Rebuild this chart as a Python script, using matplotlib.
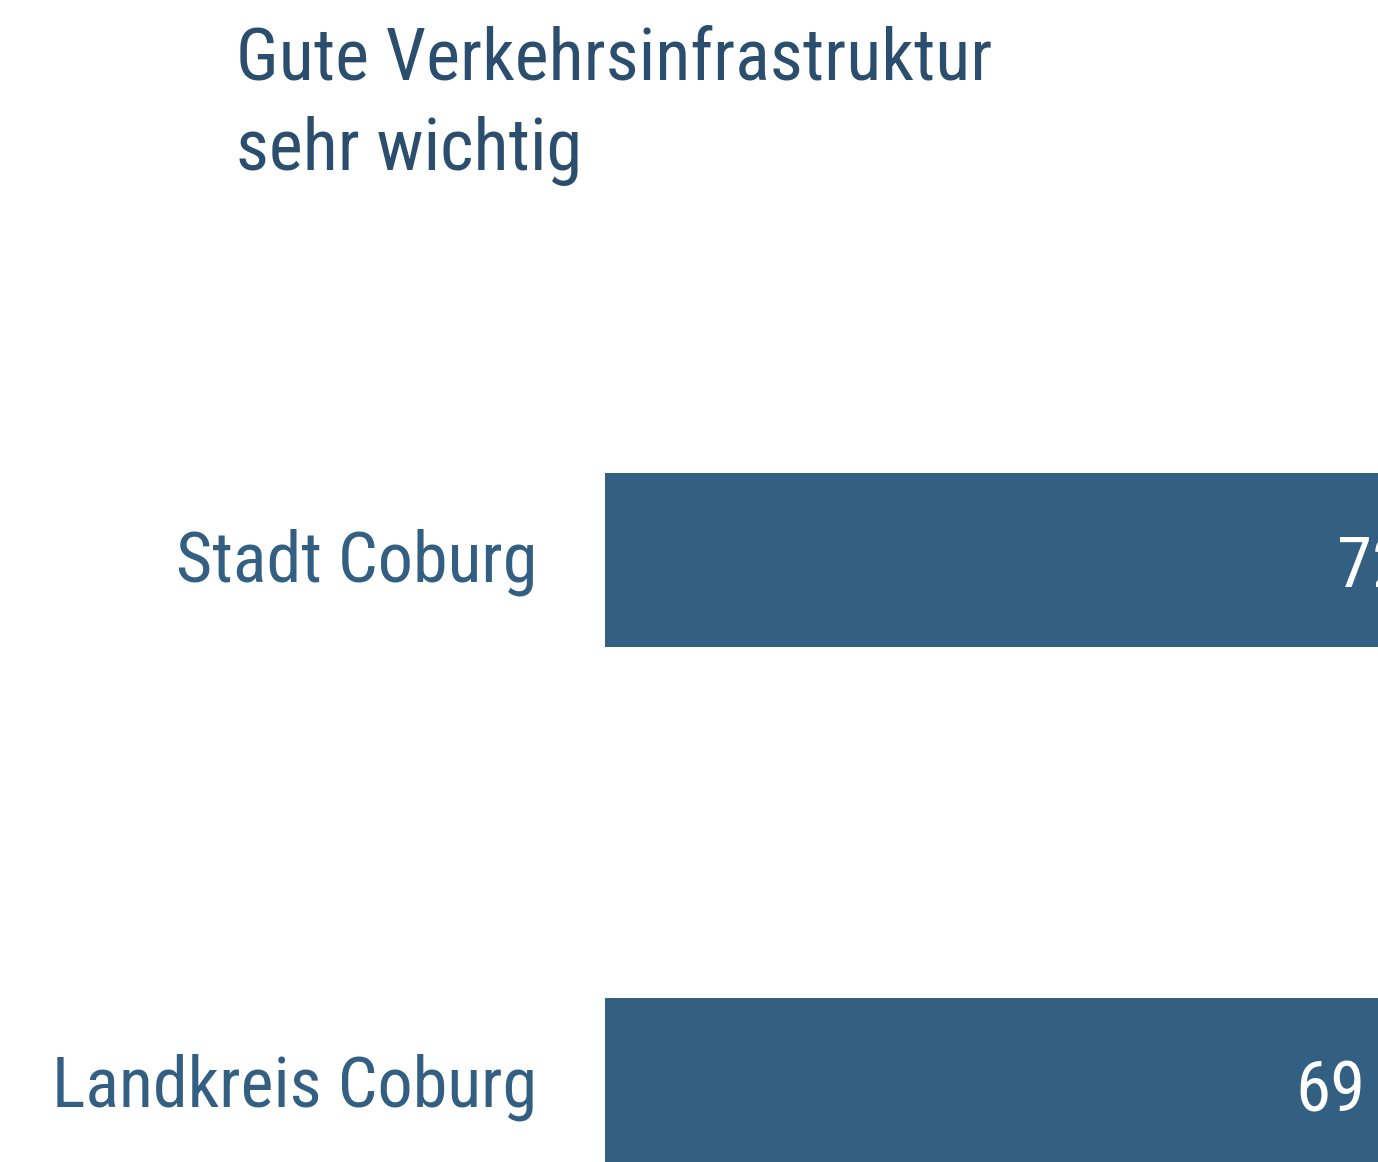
import matplotlib
matplotlib.use('Agg')
import matplotlib.pyplot as plt
import matplotlib.transforms as mtrans
from matplotlib import font_manager

# data
categories = ['Stadt Coburg', 'Landkreis Coburg']
values = [72, 69]
title = 'Gute Verkehrsinfrastruktur\nsehr wichtig'

bar_color = '#325f82'
label_color = '#335f83'
title_color = '#2b4d6e'

# pick a condensed font if there is one
names = set(f.name for f in font_manager.fontManager.ttflist)
font = 'DejaVu Sans'
for cand in ['Roboto Condensed', 'Liberation Sans Narrow', 'Open Sans Condensed']:
    if cand in names:
        font = cand
        break
plt.rcParams['font.family'] = [font, 'DejaVu Sans']

W, H = 1378, 1162
fig = plt.figure(figsize=(W / 100, H / 100), dpi=100)
ax = fig.add_axes([605 / W, 0, 1 - 605 / W, 1])

ypos = list(range(len(categories)))
ax.barh(ypos, values, height=0.331, color=bar_color)
ax.set_xlim(0, 56.5)
ax.set_ylim(1.1467, -1.0667)

for y, v in zip(ypos, values):
    ax.text(v - 13.4, y, str(v), ha='right', va='center_baseline',
            color='white', fontsize=51)

ax.set_yticks(ypos)
ax.set_yticklabels(categories, fontsize=50.5, color=label_color,
                   va='center_baseline')
ax.tick_params(axis='y', length=0, pad=49)
# nudge the category labels up a bit
up = mtrans.ScaledTranslation(0, 5 / 100, fig.dpi_scale_trans)
for lab in ax.get_yticklabels():
    lab.set_transform(lab.get_transform() + up)
ax.set_xticks([])
for s in ax.spines.values():
    s.set_visible(False)

fig.text(236 / W, 1 - 170 / H, title, ha='left', va='baseline',
         fontsize=52, color=title_color, linespacing=1.4)

fig.savefig('out.png', dpi=100)
